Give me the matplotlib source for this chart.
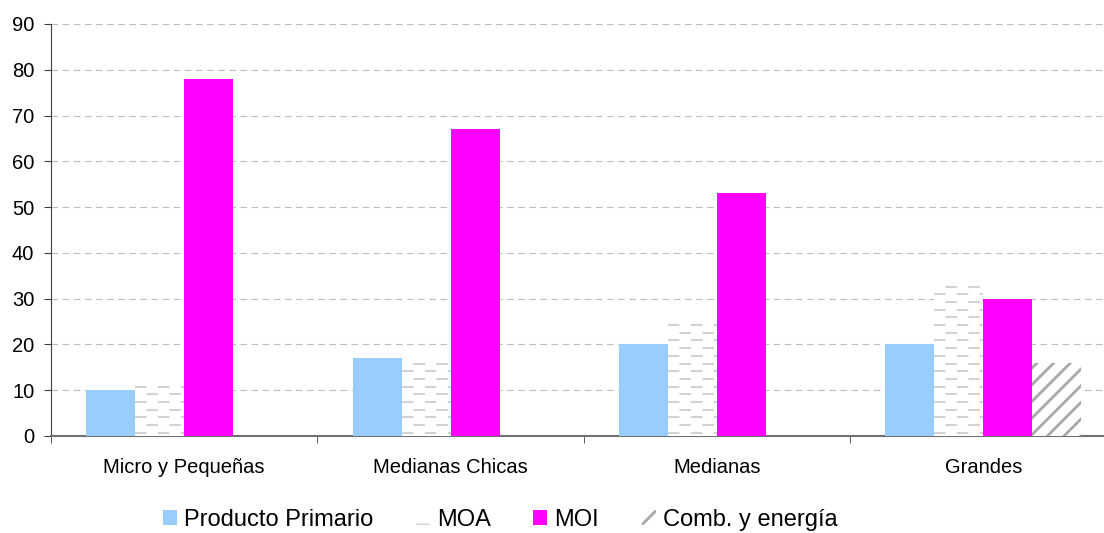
import numpy as np
import matplotlib.pyplot as plt
from matplotlib.patches import Patch

plt.rcParams['font.family'] = ['Liberation Sans', 'DejaVu Sans']
plt.rcParams['hatch.linewidth'] = 2.0

categorias = ["Micro y Pequeñas", "Medianas Chicas", "Medianas", "Grandes"]
producto_primario = [10, 17, 20, 20]
moa = [11, 16, 25, 33]
moi = [78, 67, 53, 30]
comb_energia = [0, 0, 0, 16]

c_pp = "#99ccff"
c_moi = "#ff00ff"
c_dash = "#d2d2d2"
c_comb = "#a8a8a8"

fig = plt.figure(figsize=(11.04, 5.33), dpi=100)
# the last group runs a little past the right edge of the figure
ax = fig.add_axes([0.0462, 0.182, 0.965, 0.773])

x = np.arange(len(categorias))
w = 0.184

ax.bar(x - 1.5 * w, producto_primario, w, color=c_pp, linewidth=0, zorder=3)
moa_bars = ax.bar(x - 0.5 * w, moa, w, color="white", linewidth=0, zorder=3)
ax.bar(x + 0.5 * w, moi, w, color=c_moi, linewidth=0, zorder=3)
ax.bar(x + 1.5 * w, comb_energia, w, color="white", edgecolor=c_comb,
       linewidth=0, hatch="//", zorder=3)

# dashed fill for the MOA bars, staggered row by row
paso = 1.68
for b in moa_bars:
    x0, x1 = b.get_x(), b.get_x() + b.get_width()
    filas = np.arange(0.7, b.get_height(), paso)
    for i, yy in enumerate(filas):
        off = 0 if i % 2 == 0 else 5.5
        ln, = ax.plot([x0, x1], [yy, yy], color=c_dash, lw=1.5,
                      linestyle=(off, (5.5, 5.5)), solid_capstyle='butt',
                      dash_capstyle='butt', zorder=4)
        ln.set_clip_path(b)

ax.set_ylim(0, 90)
ax.set_xlim(-0.5, 3.5)
ax.set_yticks(range(0, 91, 10))
ax.yaxis.grid(True, color="#bdbdbd", linestyle=(0, (6, 4)), linewidth=0.8, zorder=0)

ax.set_xticks(x)
ax.set_xticklabels(categorias, fontsize=14.5)
ax.set_xticks(np.arange(-0.5, 4.0, 1.0), minor=True)
ax.tick_params(axis='x', which='major', length=0, pad=16)
ax.tick_params(axis='x', which='minor', length=5, color="#404040")
ax.tick_params(axis='y', labelsize=14.5, length=5, color="#404040", pad=7)

for s in ["top", "right"]:
    ax.spines[s].set_visible(False)
ax.spines["left"].set_color("#404040")
ax.spines["bottom"].set_color("#707070")
ax.spines["bottom"].set_linewidth(1.5)

handles = [
    Patch(facecolor=c_pp, linewidth=0),
    Patch(facecolor="white", edgecolor=c_dash, linewidth=0, hatch="-"),
    Patch(facecolor=c_moi, linewidth=0),
    Patch(facecolor="white", edgecolor=c_comb, linewidth=0, hatch="//"),
]
etiquetas = ["Producto Primario", "MOA", "MOI", "Comb. y energía"]
fig.legend(handles, etiquetas, loc="center", bbox_to_anchor=(0.453, 0.024),
           ncol=4, frameon=False, fontsize=17, handlelength=0.6,
           handleheight=0.6, handletextpad=0.3, columnspacing=1.8)

plt.savefig("out.png", dpi=100)
